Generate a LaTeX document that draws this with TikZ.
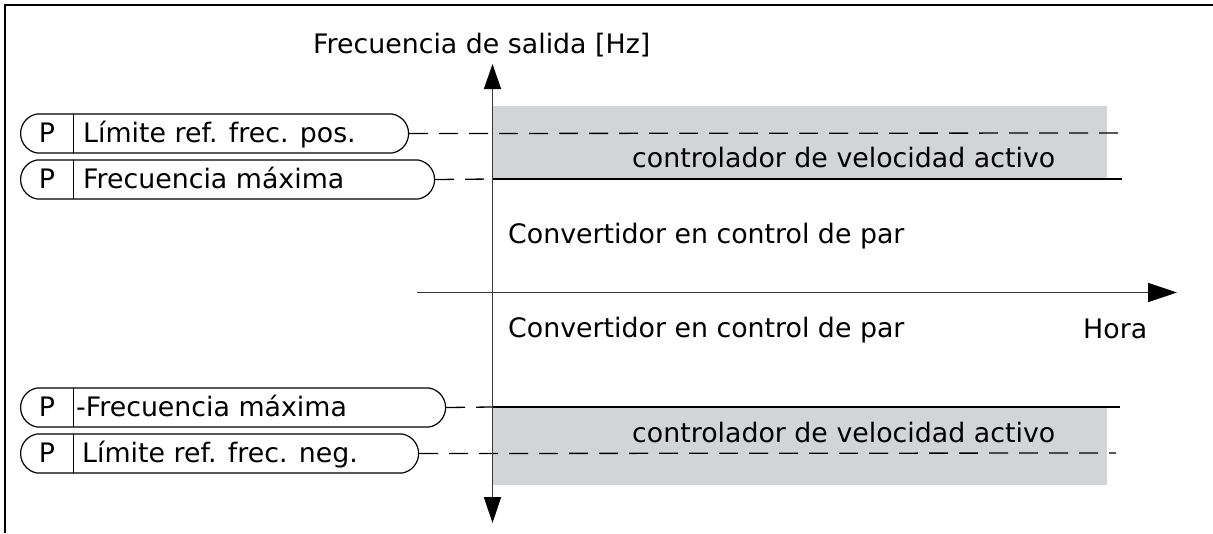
\documentclass[tikz,border=0pt]{standalone}
\usepackage{fontspec}
\setmainfont{DejaVu Sans}
\usetikzlibrary{arrows.meta,shapes.misc}
\definecolor{zonegray}{RGB}{211,212,214}
\definecolor{axisgray}{RGB}{55,55,55}
\begin{document}
\begin{tikzpicture}[x=1pt,y=-1pt,
  txt/.style={font=\fontsize{26.8}{31}\selectfont, inner sep=0pt, anchor=base west},
  ptxt/.style={font=\fontsize{26.8}{31}\selectfont, inner sep=0pt, anchor=base},
  parbox/.style={draw, line width=1.2pt, rounded rectangle, rounded rectangle arc length=160,
    minimum height=39pt, inner sep=0pt, anchor=west},
  divider/.style={line width=1pt},
  dashline/.style={line width=1.3pt, dash pattern=on 19pt off 11pt},
  solidline/.style={line width=1.3pt},
  axis/.style={line width=1.5pt, draw=axisgray},
  zone/.style={fill=zonegray, draw=none}
]
\useasboundingbox (0,0) rectangle (1213,533);
% frame (top and left edges only)
\draw[line width=2pt] (5,533) -- (5,5) -- (1213,5);
% gray zones
\path[zone] (493,106) rectangle (1107,179);
\path[zone] (493,407) rectangle (1107,485);
% parameter boxes
\node[parbox, minimum width=388pt] (b1) at (20,133.5) {};
\node[parbox, minimum width=414pt] (b2) at (20,179.5) {};
\node[parbox, minimum width=425pt] (b3) at (20,407.5) {};
\node[parbox, minimum width=398pt] (b4) at (20,453.5) {};
\draw[divider] (73,114) -- (73,153);
\draw[divider] (73,160) -- (73,199);
\draw[divider] (73,388) -- (73,427);
\draw[divider] (73,434) -- (73,473);
\node[ptxt] (p1) at (47,142.5) {P};
\node[ptxt] (p2) at (47,188.5) {P};
\node[ptxt] (p3) at (47,416.5) {P};
\node[ptxt] (p4) at (47,462.5) {P};
\node[txt] (t1) at (83,142.5) {Límite ref. frec. pos.};
\node[txt] (t2) at (83,188.5) {Frecuencia máxima};
\node[txt] (t3) at (76,416.5) {-Frecuencia máxima};
\node[txt] (t4) at (82,462.5) {Límite ref. frec. neg.};
% reference lines
\coordinate (u1e) at (1122,133);
\coordinate (u2a) at (493,179);
\coordinate (u2e) at (1122,179);
\coordinate (l1a) at (493,407);
\coordinate (l1e) at (1120,407);
\coordinate (l2e) at (1116,453);
\draw[dashline] (b1.east) -- (u1e);
\draw[dashline] (b2.east) -- (u2a);
\draw[solidline] (u2a) -- (u2e);
\draw[dashline] (b3.east) -- (l1a);
\draw[solidline] (l1a) -- (l1e);
\draw[dashline] (b4.east) -- (l2e);
% axes
\coordinate (ybot) at (492.5,523);
\coordinate (ytop) at (492.5,64);
\coordinate (xbeg) at (417,292.5);
\coordinate (xend) at (1177,292.5);
\draw[axis, {Triangle[length=26pt,width=17pt,fill=black,color=black]}-{Triangle[length=25pt,width=17pt,fill=black,color=black]}] (ybot) -- (ytop);
\draw[axis, -{Triangle[length=29pt,width=19pt,fill=black,color=black]}] (xbeg) -- (xend);
% texts
\node[txt] (ylab) at (313,53) {Frecuencia de salida [Hz]};
\node[txt] (sc1) at (632,167) {controlador de velocidad activo};
\node[txt] (cp1) at (508,243) {Convertidor en control de par};
\node[txt] (cp2) at (508,337) {Convertidor en control de par};
\node[txt] (hora) at (1083,338) {Hora};
\node[txt] (sc2) at (632,442) {controlador de velocidad activo};
\end{tikzpicture}
\end{document}
